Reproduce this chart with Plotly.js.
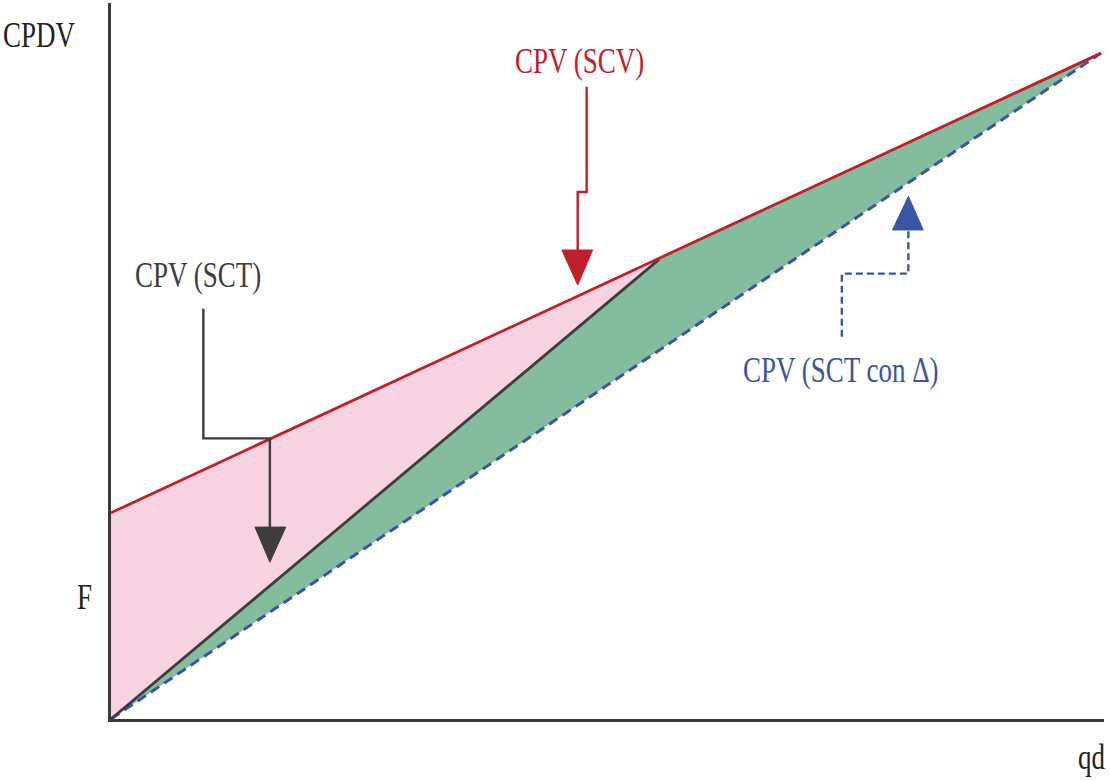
<!DOCTYPE html>
<html>
<head>
<meta charset="utf-8">
<script src="https://cdn.plot.ly/plotly-3.0.1.min.js"></script>
<style>
  html, body { margin: 0; padding: 0; background: #fff; }
  #chart { width: 1110px; height: 780px; }
  .annotation-text { transform-box: fill-box; transform-origin: 50% 50%; transform: scaleY(1.3); }
</style>
</head>
<body>
<div id="chart"></div>
<script>
// ---- data (in chart units) ----
const qdSCV  = [0, 99.7];
const cpvSCV = [28.8, 93.0];          // CPV (SCV)
const qdSCT  = [0, 55.2];
const cpvSCT = [0, 64.2];             // CPV (SCT): steeper, meets SCV at the kink
const qdSCTd  = [0, 99.7];
const cpvSCTd = [0, 93.0];            // CPV (SCT con Δ)
const yTickVals = [16.9];
const yTickText = ['F'];
const axisTitles = {y: 'CPDV', x: 'qd'};

// label / connector definitions (chart units)
const labels = [
  {text: 'CPV (SCV)', x: 47.2, y: 91.8, color: '#c1202b',
   path: [[47.9, 88.3], [47.9, 73.6], [47.0, 73.6], [47.0, 65.5]],
   head: [[45.4, 65.5], [48.5, 65.5], [47.0, 60.6]], dash: 'solid'},
  {text: 'CPV (SCT)', x: 8.8, y: 62.0, color: '#3d3d3d',
   path: [[9.3, 57.3], [9.3, 39.2], [16.0, 39.2], [16.0, 26.8]],
   head: [[14.5, 26.8], [17.6, 26.8], [16.0, 21.9]], dash: 'solid'},
  {text: 'CPV (SCT con Δ)', x: 73.5, y: 48.7, color: '#3a55a6',
   path: [[73.6, 53.4], [73.6, 62.2], [80.3, 62.2], [80.3, 68.3]],
   head: [[78.7, 68.3], [81.8, 68.3], [80.3, 73.0]], dash: '7px,4px'}
];

const RED = '#c1202b', DARK = '#3d3d3d', BLUE = '#3a55a6';
const PINK = '#f7d3e2', GREEN = '#83bd9d';

// pink region: between SCV line and SCT line up to the kink
const pinkX = [qdSCV[0], qdSCT[1], qdSCT[0], qdSCV[0]];
const pinkY = [cpvSCV[0], cpvSCT[1], cpvSCT[0], cpvSCV[0]];
// green region: SCT up to kink, SCV to the end, back along SCT con Δ
const greenX = [qdSCT[0], qdSCT[1], qdSCV[1], qdSCTd[0]];
const greenY = [cpvSCT[0], cpvSCT[1], cpvSCV[1], cpvSCTd[0]];

const traces = [
  {x: pinkX, y: pinkY, mode: 'lines', fill: 'toself', fillcolor: PINK, line: {width: 0}, hoverinfo: 'skip'},
  {x: greenX, y: greenY, mode: 'lines', fill: 'toself', fillcolor: GREEN, line: {width: 0}, hoverinfo: 'skip'},
  {x: qdSCTd, y: cpvSCTd, mode: 'lines', line: {color: BLUE, width: 3, dash: '10px,6px'}},
  {x: qdSCT, y: cpvSCT, mode: 'lines', line: {color: DARK, width: 2.8}},
  {x: qdSCV, y: cpvSCV, mode: 'lines', line: {color: RED, width: 2.8}}
];

const shapes = [];
const annotations = [];
const font = (c, s) => ({family: '"Liberation Serif", "Times New Roman", serif', size: s, color: c});

labels.forEach(l => {
  const d = 'M ' + l.path.map(p => p[0] + ',' + p[1]).join(' L ');
  shapes.push({type: 'path', xref: 'x', yref: 'y', path: d,
    line: {color: l.color, width: 2.4, dash: l.dash}});
  const h = 'M ' + l.head.map(p => p[0] + ',' + p[1]).join(' L ') + ' Z';
  shapes.push({type: 'path', xref: 'x', yref: 'y', path: h,
    fillcolor: l.color, line: {color: l.color, width: 1}});
  annotations.push({x: l.x, y: l.y, xref: 'x', yref: 'y', text: l.text,
    showarrow: false, font: font(l.color, 27), xanchor: 'center', yanchor: 'middle'});
});

// axis labels placed outside the plotting area (paper coordinates)
annotations.push({x: -0.0725, y: 0.955, xref: 'paper', yref: 'paper', text: axisTitles.y, showarrow: false,
  font: font('#222', 27), xanchor: 'center', yanchor: 'middle'});
annotations.push({x: 0.987, y: -0.054, xref: 'paper', yref: 'paper', text: axisTitles.x, showarrow: false,
  font: font('#222', 27), xanchor: 'center', yanchor: 'middle'});
annotations.push({x: -0.027, y: yTickVals[0] / 100, xref: 'paper', yref: 'paper', text: yTickText[0], showarrow: false,
  font: font('#222', 27), xanchor: 'center', yanchor: 'middle'});

const layout = {
  width: 1110, height: 780,
  margin: {l: 111, r: 6, t: 3, b: 61},
  paper_bgcolor: '#fff', plot_bgcolor: '#fff',
  showlegend: false, hovermode: false,
  xaxis: {range: [0, 100], showgrid: false, zeroline: false, showticklabels: false, ticks: '',
    showline: true, linecolor: '#3a3a3a', linewidth: 3, fixedrange: true},
  yaxis: {range: [0, 100], showgrid: false, zeroline: false, showticklabels: false, ticks: '',
    showline: true, linecolor: '#3a3a3a', linewidth: 3, fixedrange: true},
  shapes: shapes,
  annotations: annotations
};

Plotly.newPlot('chart', traces, layout, {displayModeBar: false, staticPlot: true});
</script>
</body>
</html>
